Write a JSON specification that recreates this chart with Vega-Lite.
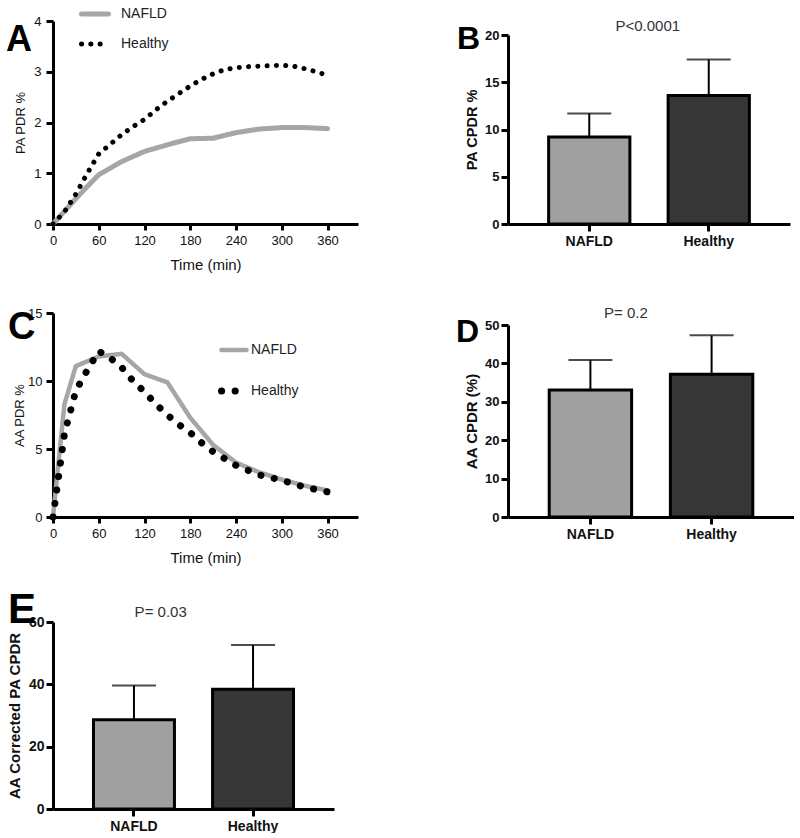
{
  "$schema": "https://vega.github.io/schema/vega-lite/v6.json",
  "padding": {"left": 6, "top": -2, "right": 0, "bottom": 0},
  "background": "white",
  "config": {
    "view": {"stroke": null},
    "font": "Liberation Sans",
    "axis": {"domainWidth": 3, "domainColor": "#000", "tickWidth": 3, "tickColor": "#000", "tickSize": 7, "grid": false, "labelColor": "#111", "titleColor": "#111"}
  },
  "datasets": {
    "pdrA": [
      {"group": "NAFLD", "time": 0, "pdr": 0}, {"group": "NAFLD", "time": 15, "pdr": 0.25}, {"group": "NAFLD", "time": 30, "pdr": 0.5}, {"group": "NAFLD", "time": 45, "pdr": 0.74}, {"group": "NAFLD", "time": 60, "pdr": 0.97}, {"group": "NAFLD", "time": 90, "pdr": 1.23}, {"group": "NAFLD", "time": 120, "pdr": 1.43}, {"group": "NAFLD", "time": 150, "pdr": 1.56}, {"group": "NAFLD", "time": 180, "pdr": 1.68}, {"group": "NAFLD", "time": 210, "pdr": 1.69}, {"group": "NAFLD", "time": 240, "pdr": 1.8}, {"group": "NAFLD", "time": 270, "pdr": 1.87}, {"group": "NAFLD", "time": 300, "pdr": 1.9}, {"group": "NAFLD", "time": 330, "pdr": 1.9}, {"group": "NAFLD", "time": 360, "pdr": 1.88},
      {"group": "Healthy", "time": 0, "pdr": 0}, {"group": "Healthy", "time": 15, "pdr": 0.24}, {"group": "Healthy", "time": 30, "pdr": 0.59}, {"group": "Healthy", "time": 45, "pdr": 1.0}, {"group": "Healthy", "time": 60, "pdr": 1.38}, {"group": "Healthy", "time": 75, "pdr": 1.57}, {"group": "Healthy", "time": 90, "pdr": 1.76}, {"group": "Healthy", "time": 105, "pdr": 1.92}, {"group": "Healthy", "time": 120, "pdr": 2.06}, {"group": "Healthy", "time": 135, "pdr": 2.25}, {"group": "Healthy", "time": 150, "pdr": 2.42}, {"group": "Healthy", "time": 165, "pdr": 2.57}, {"group": "Healthy", "time": 180, "pdr": 2.72}, {"group": "Healthy", "time": 195, "pdr": 2.85}, {"group": "Healthy", "time": 210, "pdr": 2.96}, {"group": "Healthy", "time": 225, "pdr": 3.04}, {"group": "Healthy", "time": 240, "pdr": 3.08}, {"group": "Healthy", "time": 255, "pdr": 3.1}, {"group": "Healthy", "time": 270, "pdr": 3.11}, {"group": "Healthy", "time": 285, "pdr": 3.12}, {"group": "Healthy", "time": 300, "pdr": 3.13}, {"group": "Healthy", "time": 315, "pdr": 3.11}, {"group": "Healthy", "time": 330, "pdr": 3.06}, {"group": "Healthy", "time": 345, "pdr": 3.0}, {"group": "Healthy", "time": 360, "pdr": 2.93}
    ],
    "pdrC": [
      {"group": "NAFLD", "time": 0, "pdr": 0}, {"group": "NAFLD", "time": 15, "pdr": 8.3}, {"group": "NAFLD", "time": 30, "pdr": 11.1}, {"group": "NAFLD", "time": 60, "pdr": 11.8}, {"group": "NAFLD", "time": 90, "pdr": 12.0}, {"group": "NAFLD", "time": 120, "pdr": 10.5}, {"group": "NAFLD", "time": 150, "pdr": 9.9}, {"group": "NAFLD", "time": 180, "pdr": 7.3}, {"group": "NAFLD", "time": 210, "pdr": 5.3}, {"group": "NAFLD", "time": 240, "pdr": 4.0}, {"group": "NAFLD", "time": 270, "pdr": 3.3}, {"group": "NAFLD", "time": 300, "pdr": 2.75}, {"group": "NAFLD", "time": 330, "pdr": 2.3}, {"group": "NAFLD", "time": 360, "pdr": 1.95},
      {"group": "Healthy", "time": 0, "pdr": 0}, {"group": "Healthy", "time": 15, "pdr": 6.1}, {"group": "Healthy", "time": 30, "pdr": 9.3}, {"group": "Healthy", "time": 45, "pdr": 10.8}, {"group": "Healthy", "time": 60, "pdr": 12.2}, {"group": "Healthy", "time": 75, "pdr": 11.7}, {"group": "Healthy", "time": 90, "pdr": 11.0}, {"group": "Healthy", "time": 105, "pdr": 10.0}, {"group": "Healthy", "time": 120, "pdr": 9.2}, {"group": "Healthy", "time": 135, "pdr": 8.3}, {"group": "Healthy", "time": 150, "pdr": 7.5}, {"group": "Healthy", "time": 165, "pdr": 6.8}, {"group": "Healthy", "time": 180, "pdr": 6.2}, {"group": "Healthy", "time": 195, "pdr": 5.45}, {"group": "Healthy", "time": 210, "pdr": 4.8}, {"group": "Healthy", "time": 240, "pdr": 3.8}, {"group": "Healthy", "time": 270, "pdr": 3.1}, {"group": "Healthy", "time": 300, "pdr": 2.7}, {"group": "Healthy", "time": 330, "pdr": 2.2}, {"group": "Healthy", "time": 360, "pdr": 1.85}
    ],
    "cpdrB": [{"group": "NAFLD", "mean": 9.2, "upper": 11.7}, {"group": "Healthy", "mean": 13.6, "upper": 17.4}],
    "cpdrD": [{"group": "NAFLD", "mean": 33.1, "upper": 40.9}, {"group": "Healthy", "mean": 37.2, "upper": 47.3}],
    "cpdrE": [{"group": "NAFLD", "mean": 28.6, "upper": 39.6}, {"group": "Healthy", "mean": 38.4, "upper": 52.6}]
  },
  "columns": 2,
  "spacing": {"row": 89, "column": 150},
  "bounds": "flush",
  "resolve": {
    "scale": {"color": "independent", "strokeDash": "independent"},
    "legend": {"color": "independent", "strokeDash": "independent"}
  },
  "concat": [
    {
      "width": 305, "height": 203,
      "title": {"text": "A", "fontSize": 36, "fontWeight": "bold", "anchor": "start", "frame": "group", "dx": -47, "dy": 93, "color": "#000", "baseline": "alphabetic"},
      "data": {"name": "pdrA"},
      "mark": {"type": "line", "strokeCap": "round", "strokeJoin": "round", "strokeWidth": 5},
      "encoding": {
        "x": {"field": "time", "type": "quantitative", "scale": {"domain": [0, 400], "nice": false},
              "axis": {"values": [0, 60, 120, 180, 240, 300, 360], "title": "Time (min)", "labelFontSize": 13, "titleFontSize": 15, "titleFontWeight": "normal", "labelPadding": 4, "titlePadding": 10, "tickSize": 6, "labelFlush": false}},
        "y": {"field": "pdr", "type": "quantitative", "scale": {"domain": [0, 4], "nice": false},
              "axis": {"values": [0, 1, 2, 3, 4], "title": "PA PDR %", "labelFontSize": 13, "titleFontSize": 13, "titleFontWeight": "normal", "labelPadding": 5, "titlePadding": 6}},
        "color": {"field": "group", "type": "nominal", "scale": {"domain": ["NAFLD", "Healthy"], "range": ["#a6a6a6", "#000000"]},
                  "legend": {"orient": "none", "legendX": 26, "legendY": -23, "title": null, "symbolType": "stroke", "symbolSize": 729, "symbolStrokeWidth": 5, "labelFontSize": 14, "labelOffset": 10, "rowPadding": 4, "labelColor": "#222",
                             "encode": {"symbols": {"update": {"strokeCap": {"value": "round"}}}}}},
        "strokeDash": {"field": "group", "type": "nominal", "scale": {"domain": ["NAFLD", "Healthy"], "range": [[1, 0], [0.1, 9.2]]},
                  "legend": {"orient": "none", "legendX": 26, "legendY": -23, "title": null, "symbolType": "stroke", "symbolSize": 729, "symbolStrokeWidth": 5, "labelFontSize": 14, "labelOffset": 10, "rowPadding": 4, "labelColor": "#222",
                             "encode": {"symbols": {"update": {"strokeCap": {"value": "round"}}}}}}
      }
    },
    {
      "width": 282, "height": 203,
      "title": {"text": "B", "fontSize": 32, "fontWeight": "bold", "anchor": "start", "frame": "group", "dx": -51, "dy": 66, "color": "#000", "baseline": "alphabetic"},
      "data": {"name": "cpdrB"},
      "encoding": {"x": {"field": "group", "type": "nominal", "sort": ["NAFLD", "Healthy"], "scale": {"paddingInner": 0.32, "paddingOuter": 0.34},
                         "axis": {"title": null, "labelAngle": 0, "labelFontSize": 14, "labelFontWeight": "bold", "labelColor": "#111", "labelPadding": 3}}},
      "layer": [
        {"mark": {"type": "rule", "strokeWidth": 2, "color": "#000"},
         "encoding": {"y": {"field": "mean", "type": "quantitative", "scale": {"domain": [0, 20], "nice": false, "range": [203, 14]}, "axis": {"values": [0, 5, 10, 15, 20], "title": "PA CPDR %", "labelFontSize": 13, "labelFontWeight": "bold", "titleFontSize": 14.5, "titleFontWeight": "bold", "labelPadding": 2, "titlePadding": 5}}, "y2": {"field": "upper"}}},
        {"mark": {"type": "tick", "size": 44, "thickness": 2, "color": "#000"},
         "encoding": {"y": {"field": "upper", "type": "quantitative"}}},
        {"mark": {"type": "bar", "stroke": "#000", "strokeWidth": 3},
         "encoding": {"y": {"field": "mean", "type": "quantitative"},
                      "fill": {"field": "group", "type": "nominal", "scale": {"domain": ["NAFLD", "Healthy"], "range": ["#a0a0a0", "#363636"]}, "legend": null}}},
        {"data": {"values": [{"p": "P<0.0001"}]},
         "mark": {"type": "text", "baseline": "alphabetic", "dy": -4, "fontSize": 15, "color": "#333"},
         "encoding": {"x": {"datum": "NAFLD", "bandPosition": 1.22}, "y": {"datum": 20}, "text": {"field": "p"}}}
      ]
    },
    {
      "width": 305, "height": 204,
      "title": {"text": "C", "fontSize": 38, "fontWeight": "bold", "anchor": "start", "frame": "group", "dx": -45, "dy": 74, "color": "#000", "baseline": "alphabetic"},
      "data": {"name": "pdrC"},
      "encoding": {
        "x": {"field": "time", "type": "quantitative", "scale": {"domain": [0, 400], "nice": false},
              "axis": {"values": [0, 60, 120, 180, 240, 300, 360], "title": "Time (min)", "labelFontSize": 13, "titleFontSize": 15, "titleFontWeight": "normal", "labelPadding": 4, "titlePadding": 10, "tickSize": 6, "labelFlush": false}},
        "y": {"field": "pdr", "type": "quantitative", "scale": {"domain": [0, 15], "nice": false},
              "axis": {"values": [0, 5, 10, 15], "title": "AA PDR %", "labelFontSize": 13, "titleFontSize": 13, "titleFontWeight": "normal", "labelPadding": 4, "titlePadding": 1}},
        "color": {"field": "group", "type": "nominal", "scale": {"domain": ["NAFLD", "Healthy"], "range": ["#a6a6a6", "#000000"]},
                  "legend": {"orient": "none", "legendX": 174, "legendY": 30, "title": null, "symbolType": "stroke", "symbolSize": 625, "symbolStrokeWidth": 5, "labelFontSize": 14, "labelOffset": 10, "rowPadding": 18, "labelColor": "#222",
                             "encode": {"symbols": {"update": {"strokeCap": {"value": "round"}, "strokeWidth": {"signal": "datum.value === 'Healthy' ? 7 : 4.5"}}}}}},
        "strokeDash": {"field": "group", "type": "nominal", "scale": {"domain": ["NAFLD", "Healthy"], "range": [[1, 0], [0.1, 13.5]]},
                  "legend": {"orient": "none", "legendX": 174, "legendY": 30, "title": null, "symbolType": "stroke", "symbolSize": 625, "symbolStrokeWidth": 5, "labelFontSize": 14, "labelOffset": 10, "rowPadding": 18, "labelColor": "#222",
                             "encode": {"symbols": {"update": {"strokeCap": {"value": "round"}, "strokeWidth": {"signal": "datum.value === 'Healthy' ? 7 : 4.5"}}}}}}
      },
      "layer": [
        {"transform": [{"filter": "datum.group === 'NAFLD'"}], "mark": {"type": "line", "strokeCap": "round", "strokeJoin": "round", "strokeWidth": 4.5}},
        {"transform": [{"filter": "datum.group === 'Healthy'"}], "mark": {"type": "line", "strokeCap": "round", "strokeJoin": "round", "strokeWidth": 7}}
      ]
    },
    {
      "width": 286, "height": 204,
      "title": {"text": "D", "fontSize": 32, "fontWeight": "bold", "anchor": "start", "frame": "group", "dx": -52, "dy": 72, "color": "#000", "baseline": "alphabetic"},
      "data": {"name": "cpdrD"},
      "encoding": {"x": {"field": "group", "type": "nominal", "sort": ["NAFLD", "Healthy"], "scale": {"paddingInner": 0.32, "paddingOuter": 0.34},
                         "axis": {"title": null, "labelAngle": 0, "labelFontSize": 14, "labelFontWeight": "bold", "labelColor": "#111", "labelPadding": 3}}},
      "layer": [
        {"mark": {"type": "rule", "strokeWidth": 2, "color": "#000"},
         "encoding": {"y": {"field": "mean", "type": "quantitative", "scale": {"domain": [0, 50], "nice": false, "range": [204, 12]}, "axis": {"values": [0, 10, 20, 30, 40, 50], "title": "AA CPDR (%)", "labelFontSize": 13, "labelFontWeight": "bold", "titleFontSize": 15, "titleFontWeight": "bold", "labelPadding": 2, "titlePadding": 5}}, "y2": {"field": "upper"}}},
        {"mark": {"type": "tick", "size": 44, "thickness": 2, "color": "#000"},
         "encoding": {"y": {"field": "upper", "type": "quantitative"}}},
        {"mark": {"type": "bar", "stroke": "#000", "strokeWidth": 3},
         "encoding": {"y": {"field": "mean", "type": "quantitative"},
                      "fill": {"field": "group", "type": "nominal", "scale": {"domain": ["NAFLD", "Healthy"], "range": ["#a0a0a0", "#363636"]}, "legend": null}}},
        {"data": {"values": [{"p": "P= 0.2"}]},
         "mark": {"type": "text", "baseline": "alphabetic", "dy": -7, "fontSize": 15, "color": "#333"},
         "encoding": {"x": {"datum": "NAFLD", "bandPosition": 0.93}, "y": {"datum": 50}, "text": {"field": "p"}}}
      ]
    },
    {
      "width": 281, "height": 203,
      "title": {"text": "E", "fontSize": 42, "fontWeight": "bold", "anchor": "start", "frame": "group", "dx": -45, "dy": 64, "color": "#000", "baseline": "alphabetic"},
      "data": {"name": "cpdrE"},
      "encoding": {"x": {"field": "group", "type": "nominal", "sort": ["NAFLD", "Healthy"], "scale": {"paddingInner": 0.32, "paddingOuter": 0.34},
                         "axis": {"title": null, "labelAngle": 0, "labelFontSize": 14, "labelFontWeight": "bold", "labelColor": "#111", "labelPadding": 3}}},
      "layer": [
        {"mark": {"type": "rule", "strokeWidth": 2, "color": "#000"},
         "encoding": {"y": {"field": "mean", "type": "quantitative", "scale": {"domain": [0, 60], "nice": false, "range": [203, 16]}, "axis": {"values": [0, 20, 40, 60], "title": "AA Corrected PA CPDR", "labelFontSize": 14, "labelFontWeight": "bold", "titleFontSize": 15, "titleFontWeight": "bold", "labelPadding": 2, "titlePadding": 6}}, "y2": {"field": "upper"}}},
        {"mark": {"type": "tick", "size": 44, "thickness": 2, "color": "#000"},
         "encoding": {"y": {"field": "upper", "type": "quantitative"}}},
        {"mark": {"type": "bar", "stroke": "#000", "strokeWidth": 3},
         "encoding": {"y": {"field": "mean", "type": "quantitative"},
                      "fill": {"field": "group", "type": "nominal", "scale": {"domain": ["NAFLD", "Healthy"], "range": ["#a0a0a0", "#363636"]}, "legend": null}}},
        {"data": {"values": [{"p": "P= 0.03"}]},
         "mark": {"type": "text", "baseline": "alphabetic", "dy": -5, "fontSize": 15, "color": "#333"},
         "encoding": {"x": {"datum": "NAFLD", "bandPosition": 0.83}, "y": {"datum": 60}, "text": {"field": "p"}}}
      ]
    }
  ]
}
